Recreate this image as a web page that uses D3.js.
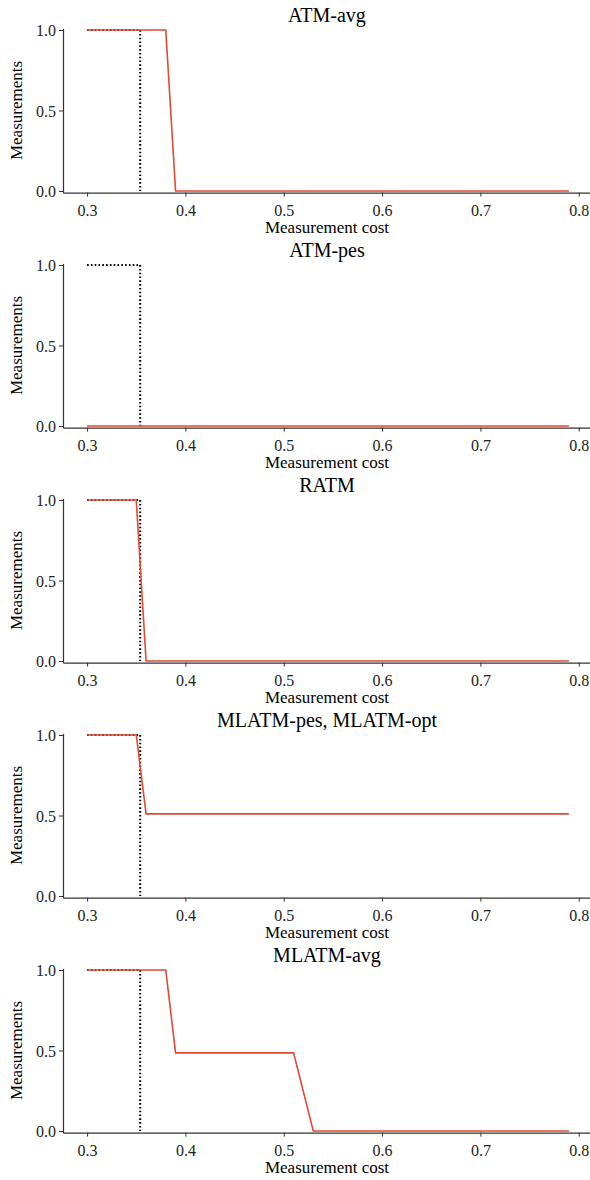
<!DOCTYPE html>
<html>
<head>
<meta charset="utf-8">
<script src="https://cdn.jsdelivr.net/npm/d3@7"></script>
<style>
  body { margin: 0; background: #fff; }
  svg { display: block; }
</style>
</head>
<body>
<svg id="chart" width="590" height="1180"></svg>
<script>
// panel titles
const titles = ["ATM-avg", "ATM-pes", "RATM", "MLATM-pes, MLATM-opt", "MLATM-avg"];

// red curves (knee points only) per panel
const costX = [
  [0.30, 0.38, 0.39, 0.79],
  [0.30, 0.79],
  [0.30, 0.35, 0.36, 0.79],
  [0.30, 0.35, 0.36, 0.79],
  [0.30, 0.38, 0.39, 0.51, 0.53, 0.79]
];
const measY = [
  [1, 1, 0, 0],
  [0, 0],
  [1, 1, 0, 0],
  [1, 1, 0.51, 0.51],
  [1, 1, 0.485, 0.485, 0, 0]
];

// black dotted reference step (same in every panel)
const refX = [0.30, 0.354, 0.354];
const refY = [1, 1, 0];

const xTicks = [0.3, 0.4, 0.5, 0.6, 0.7, 0.8];
const yTicks = [0.0, 0.5, 1.0];

const svg = d3.select("#chart");
const left = 63, right = 593;
const panelStep = 235, firstTop = 30, plotH = 161;
const serif = "Liberation Serif, DejaVu Serif, serif";

const x = d3.scaleLinear().domain([0.2755, 0.8145]).range([left, right]);

titles.forEach((title, i) => {
  const top = firstTop + i * panelStep;
  const y = d3.scaleLinear().domain([-0.01, 1.01]).range([top + plotH * 1.01, top - plotH * 0.01]);
  const g = svg.append("g");

  g.append("g")
    .attr("transform", `translate(0,${y(-0.01)})`)
    .call(d3.axisBottom(x).tickValues(xTicks).tickFormat(d3.format(".1f")).tickSize(4).tickSizeOuter(0))
    .call(a => a.select(".domain").attr("stroke", "#333").attr("stroke-width", 1.2))
    .call(a => a.selectAll(".tick line").attr("stroke", "#333"))
    .call(a => a.selectAll(".tick text").attr("dy", "1.0em").attr("font-family", serif).attr("font-size", 16).attr("fill", "#222"));

  g.append("g")
    .attr("transform", `translate(${left},0)`)
    .call(d3.axisLeft(y).tickValues(yTicks).tickFormat(d3.format(".1f")).tickSize(4).tickSizeOuter(0))
    .call(a => a.select(".domain").attr("stroke", "#333").attr("stroke-width", 1.2))
    .call(a => a.selectAll(".tick line").attr("stroke", "#333"))
    .call(a => a.selectAll(".tick text").attr("dy", "0.35em").attr("font-family", serif).attr("font-size", 16).attr("fill", "#222"));

  const line = d3.line().x(d => x(d[0])).y(d => y(d[1]));

  g.append("path")
    .attr("d", line(refX.map((v, k) => [v, refY[k]])))
    .attr("fill", "none")
    .attr("stroke", "#000")
    .attr("stroke-width", 2)
    .attr("stroke-dasharray", "1.6,2.2");

  g.append("path")
    .attr("d", line(costX[i].map((v, k) => [v, measY[i][k]])))
    .attr("fill", "none")
    .attr("stroke", "#e24a33")
    .attr("stroke-width", 1.6);

  g.append("text")
    .attr("x", 327).attr("y", top - 8)
    .attr("text-anchor", "middle")
    .attr("font-family", serif)
    .attr("font-size", 20)
    .text(title);

  g.append("text")
    .attr("x", 327).attr("y", top + 203)
    .attr("text-anchor", "middle")
    .attr("font-family", serif)
    .attr("font-size", 17)
    .text("Measurement cost");

  g.append("text")
    .attr("transform", `translate(22,${top + plotH / 2}) rotate(-90)`)
    .attr("text-anchor", "middle")
    .attr("font-family", serif)
    .attr("font-size", 17)
    .text("Measurements");
});
</script>
</body>
</html>
